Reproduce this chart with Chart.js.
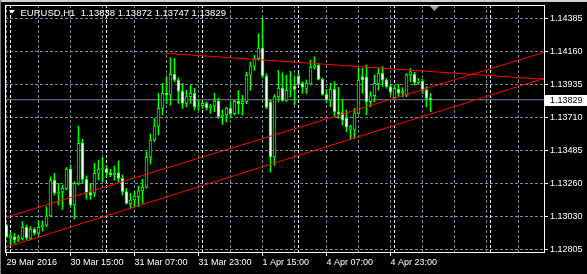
<!DOCTYPE html>
<html lang="en">
<head>
    <meta charset="UTF-8">
    <script src="https://cdn.jsdelivr.net/npm/chart.js"></script>
    <title>EURUSD,H1</title>
    <style>
        html, body { margin: 0; padding: 0; background: #000; }
        #chart { display: block; }
    </style>
</head>
<body>
<canvas id="chart" width="587" height="274"></canvas>

<script>
    // EURUSD H1, one candle per hour, bar 0 = 29 Mar 23:00
    const symbol = 'EURUSD,H1';
    const open = [
        1.12973, 1.12886, 1.12893, 1.12876, 1.12882, 1.12958, 1.12882, 1.12944, 1.12917, 1.12958,
        1.12973, 1.13035, 1.13279, 1.13190, 1.13197, 1.13224, 1.13356, 1.13110, 1.13258, 1.13535,
        1.13285, 1.13194, 1.13190, 1.13326, 1.13354, 1.13358, 1.13330, 1.13317, 1.13330, 1.13292,
        1.13201, 1.13121, 1.13144, 1.13167, 1.13206, 1.13231, 1.13436, 1.13554, 1.13649, 1.13770,
        1.13873, 1.13861, 1.14003, 1.13964, 1.13888, 1.13804, 1.13850, 1.13873, 1.13781, 1.13788,
        1.13804, 1.13774, 1.13786, 1.13820, 1.13713, 1.13725, 1.13772, 1.13733, 1.13818, 1.13802,
        1.13818, 1.13996, 1.14059, 1.14109, 1.14182, 1.13991, 1.13813, 1.13438, 1.13848, 1.13909,
        1.13825, 1.13893, 1.13923, 1.13991, 1.13941, 1.13907, 1.13936, 1.14050, 1.14066, 1.13968,
        1.13866, 1.13827, 1.13900, 1.13747, 1.13740, 1.13702, 1.13627, 1.13622, 1.13736, 1.13986,
        1.13986, 1.13815, 1.13856, 1.13941, 1.14009, 1.13964, 1.13918, 1.13843, 1.13902, 1.13873,
        1.13861, 1.13998, 1.14003, 1.13948, 1.13957, 1.13895, 1.13838
    ];
    const high = [
        1.12980, 1.12923, 1.12917, 1.12905, 1.12996, 1.12973, 1.12962, 1.12955, 1.13001, 1.13001,
        1.13098, 1.13303, 1.13326, 1.13258, 1.13246, 1.13365, 1.13383, 1.13269, 1.13649, 1.13559,
        1.13308, 1.13258, 1.13395, 1.13417, 1.13436, 1.13383, 1.13354, 1.13376, 1.13412, 1.13315,
        1.13224, 1.13190, 1.13201, 1.13240, 1.13285, 1.13474, 1.13595, 1.13702, 1.13873, 1.13941,
        1.13986, 1.14116, 1.14112, 1.13979, 1.13941, 1.13895, 1.13930, 1.13907, 1.13827, 1.13815,
        1.13815, 1.13798, 1.13873, 1.13839, 1.13759, 1.13779, 1.13813, 1.13825, 1.13893, 1.13859,
        1.14018, 1.14087, 1.14132, 1.14280, 1.14382, 1.14007, 1.13825, 1.13863, 1.14030, 1.14013,
        1.13996, 1.14023, 1.13986, 1.14009, 1.13952, 1.13964, 1.14100, 1.14123, 1.14078, 1.13975,
        1.13900, 1.13941, 1.13952, 1.13914, 1.13832, 1.13759, 1.13656, 1.13770, 1.14044, 1.14044,
        1.14066, 1.13884, 1.13998, 1.14044, 1.14055, 1.13975, 1.13934, 1.13930, 1.13934, 1.13911,
        1.14009, 1.14044, 1.14016, 1.13975, 1.13970, 1.13918, 1.13872
    ];
    const low = [
        1.12888, 1.12837, 1.12848, 1.12859, 1.12871, 1.12871, 1.12871, 1.12905, 1.12905, 1.12932,
        1.12962, 1.13030, 1.13178, 1.13110, 1.13080, 1.13212, 1.13098, 1.13014, 1.13246, 1.13258,
        1.13149, 1.13149, 1.13167, 1.13281, 1.13269, 1.13303, 1.13303, 1.13281, 1.13269, 1.13178,
        1.13117, 1.13087, 1.13098, 1.13098, 1.13121, 1.13224, 1.13390, 1.13542, 1.13588, 1.13725,
        1.13804, 1.13793, 1.13950, 1.13804, 1.13770, 1.13781, 1.13804, 1.13759, 1.13759, 1.13770,
        1.13759, 1.13736, 1.13747, 1.13702, 1.13661, 1.13677, 1.13704, 1.13725, 1.13733, 1.13723,
        1.13802, 1.13893, 1.14030, 1.14098, 1.13977, 1.13768, 1.13335, 1.13381, 1.13818, 1.13818,
        1.13818, 1.13848, 1.13796, 1.13930, 1.13873, 1.13873, 1.13930, 1.14037, 1.13964, 1.13861,
        1.13815, 1.13781, 1.13713, 1.13702, 1.13656, 1.13610, 1.13559, 1.13565, 1.13731, 1.13873,
        1.13725, 1.13781, 1.13815, 1.13895, 1.13918, 1.13907, 1.13861, 1.13839, 1.13850, 1.13850,
        1.13850, 1.13952, 1.13930, 1.13934, 1.13873, 1.13781, 1.13747
    ];
    const close = [
        1.12893, 1.12900, 1.12871, 1.12889, 1.12958, 1.12886, 1.12944, 1.12917, 1.12958, 1.12973,
        1.13035, 1.13279, 1.13190, 1.13197, 1.13224, 1.13356, 1.13110, 1.13258, 1.13531, 1.13285,
        1.13190, 1.13178, 1.13326, 1.13354, 1.13358, 1.13330, 1.13317, 1.13330, 1.13292, 1.13201,
        1.13121, 1.13144, 1.13167, 1.13206, 1.13231, 1.13436, 1.13554, 1.13649, 1.13770, 1.13873,
        1.13861, 1.14003, 1.13964, 1.13888, 1.13804, 1.13850, 1.13873, 1.13781, 1.13788, 1.13804,
        1.13774, 1.13786, 1.13820, 1.13713, 1.13725, 1.13772, 1.13733, 1.13818, 1.13802, 1.13818,
        1.13996, 1.14059, 1.14109, 1.14182, 1.13991, 1.13779, 1.13438, 1.13848, 1.13909, 1.13825,
        1.13893, 1.13904, 1.13900, 1.13936, 1.13914, 1.13941, 1.14050, 1.14066, 1.13968, 1.13866,
        1.13827, 1.13900, 1.13747, 1.13731, 1.13690, 1.13641, 1.13645, 1.13740, 1.13964, 1.13964,
        1.13815, 1.13856, 1.13941, 1.14009, 1.13964, 1.13918, 1.13880, 1.13907, 1.13873, 1.13884,
        1.13998, 1.14020, 1.13948, 1.13957, 1.13895, 1.13838, 1.13829
    ];

    // axis labels
    const xTickLabels = ['29 Mar 2016', '30 Mar 15:00', '31 Mar 07:00', '31 Mar 23:00',
                         '1 Apr 15:00', '4 Apr 07:00', '4 Apr 23:00'];   // every 16 bars
    const yTickLabels = ['1.14385', '1.14160', '1.13935', '1.13710',
                         '1.13485', '1.13260', '1.13030', '1.12805'];
    const daySeparators = [1, 25, 49, 73, 97, 121];   // bar index of 00:00

    // trend lines: [bar, price] pairs
    const channelUpper = [[0, 1.13027], [135, 1.14158]];
    const channelLower = [[0, 1.12822], [135, 1.13980]];
    const resistance = [[40, 1.14146], [135, 1.13967]];

    const X_MIN = -0.375, X_MAX = 134.625;
    const Y_MIN = 1.12789, Y_MAX = 1.14476;
    const FONT = 'Liberation Sans';
    const GREEN = '#00ff00', GRID = '#778899';

    const lastClose = close[close.length - 1];
    const toXY = pts => pts.map(p => ({x: p[0], y: p[1]}));

    const wicks = low.map((l, i) => ({x: i, y: [l, high[i]]}));
    const bodies = open.map((o, i) => ({x: i, y: [Math.min(o, close[i]), Math.max(o, close[i])]}));

    const mt4Decor = {
        id: 'mt4Decor',
        beforeDraw(chart) {
            const c = chart.ctx;
            c.save();
            c.fillStyle = '#000';
            c.fillRect(0, 0, chart.width, chart.height);
            c.fillStyle = '#d4d0c8';
            c.fillRect(0, 0, chart.width, 2);
            c.fillStyle = '#808080';
            c.fillRect(0, 0, 1, chart.height);
            c.restore();
        },
        beforeDatasetsDraw(chart) {
            const c = chart.ctx, a = chart.chartArea, xs = chart.scales.x;
            c.save();
            c.strokeStyle = '#ffffff';
            c.lineWidth = 1;
            c.setLineDash([3, 2]);
            daySeparators.forEach(i => {
                const x = Math.round(xs.getPixelForValue(i) - 0.5) + 0.5;
                if (x < a.left || x > a.right) return;
                c.beginPath();
                c.moveTo(x, a.top);
                c.lineTo(x, a.bottom);
                c.stroke();
            });
            c.restore();
        },
        afterDatasetsDraw(chart) {
            const c = chart.ctx, a = chart.chartArea;
            const xs = chart.scales.x, ys = chart.scales.y;
            c.save();
            // frame
            c.strokeStyle = '#ffffff';
            c.lineWidth = 1;
            c.strokeRect(a.left + 0.5, a.top + 0.5, a.right - a.left - 1, a.bottom - a.top);

            // header
            const n = close.length - 1;
            c.fillStyle = '#ffffff';
            c.beginPath();
            c.moveTo(a.left + 4, a.top + 5);
            c.lineTo(a.left + 10, a.top + 5);
            c.lineTo(a.left + 7, a.top + 8.5);
            c.closePath();
            c.fill();
            c.font = '9.5px "' + FONT + '"';
            c.textBaseline = 'middle';
            c.fillText(symbol + '  ' + [open[n], high[n], low[n], close[n]].map(v => v.toFixed(5)).join(' '),
                a.left + 15.5, a.top + 8.5);

            // shift marker
            const sx = xs.getPixelForValue(n + 1);
            c.fillStyle = '#a0a0a0';
            c.beginPath();
            c.moveTo(sx - 4.5, a.top + 1);
            c.lineTo(sx + 4.5, a.top + 1);
            c.lineTo(sx, a.top + 6);
            c.closePath();
            c.fill();

            // bid label
            const py = ys.getPixelForValue(lastClose);
            c.font = '9px "' + FONT + '"';
            c.fillStyle = '#ffffff';
            c.fillRect(a.right, Math.round(py) - 5, chart.width - a.right, 11);
            c.fillStyle = '#000000';
            c.fillText(lastClose.toFixed(5), a.right + 5, Math.round(py) + 0.5);
            c.restore();
        }
    };

    new Chart(document.getElementById('chart'), {
        type: 'bar',
        data: {
            datasets: [
                {
                    type: 'line',
                    data: [{x: X_MIN, y: lastClose}, {x: X_MAX, y: lastClose}],
                    borderColor: GRID,
                    borderWidth: 1,
                    pointRadius: 0,
                    order: 4
                },
                {
                    data: wicks,
                    backgroundColor: GREEN,
                    barThickness: 1,
                    grouped: false,
                    order: 3
                },
                {
                    data: bodies,
                    backgroundColor: ctx => close[ctx.dataIndex] >= open[ctx.dataIndex] ? '#000000' : '#ffffff',
                    borderColor: GREEN,
                    borderWidth: 1,
                    borderSkipped: false,
                    barThickness: 3,
                    grouped: false,
                    order: 2
                },
                {type: 'line', data: toXY(channelUpper), borderColor: '#ff0000', borderWidth: 1, pointRadius: 0, order: 1},
                {type: 'line', data: toXY(channelLower), borderColor: '#ff0000', borderWidth: 1, pointRadius: 0, order: 1},
                {type: 'line', data: toXY(resistance), borderColor: '#ff0000', borderWidth: 1, pointRadius: 0, order: 1}
            ]
        },
        options: {
            responsive: false,
            animation: false,
            devicePixelRatio: 1,
            layout: { padding: { left: 5, top: 5, right: 0, bottom: 0 } },
            plugins: { legend: { display: false }, tooltip: { enabled: false } },
            scales: {
                x: {
                    type: 'linear',
                    position: 'bottom',
                    offset: false,
                    min: X_MIN,
                    max: X_MAX,
                    afterBuildTicks: s => {
                        const t = [];
                        for (let i = 0; i <= 128; i += 8) t.push({value: i});
                        s.ticks = t;
                    },
                    afterFit: s => { s.height = 22; s.paddingLeft = 0; s.paddingRight = 0; },
                    ticks: {
                        autoSkip: false,
                        maxRotation: 0,
                        minRotation: 0,
                        align: 'start',
                        padding: 1,
                        color: '#ffffff',
                        font: { family: FONT, size: 9 },
                        callback: v => (v % 16 === 0 && xTickLabels[v / 16]) ? xTickLabels[v / 16] : ''
                    },
                    grid: {
                        offset: false,
                        color: GRID,
                        tickLength: 4,
                        tickColor: ctx => (ctx.tick && ctx.tick.value % 16 === 0 && xTickLabels[ctx.tick.value / 16]) ? '#ffffff' : 'rgba(0,0,0,0)'
                    },
                    border: { display: false, dash: [3, 2] }
                },
                y: {
                    type: 'linear',
                    position: 'right',
                    min: Y_MIN,
                    max: Y_MAX,
                    afterBuildTicks: s => { s.ticks = yTickLabels.map(v => ({value: parseFloat(v)})); },
                    afterFit: s => { s.width = 42; s.paddingTop = 0; s.paddingBottom = 0; },
                    ticks: {
                        padding: 2,
                        color: '#ffffff',
                        font: { family: FONT, size: 9 },
                        callback: (v, i) => yTickLabels[i]
                    },
                    grid: { color: GRID, tickLength: 3, tickColor: '#ffffff' },
                    border: { display: false, dash: [3, 2] }
                }
            }
        },
        plugins: [mt4Decor]
    });
</script>
</body>
</html>
